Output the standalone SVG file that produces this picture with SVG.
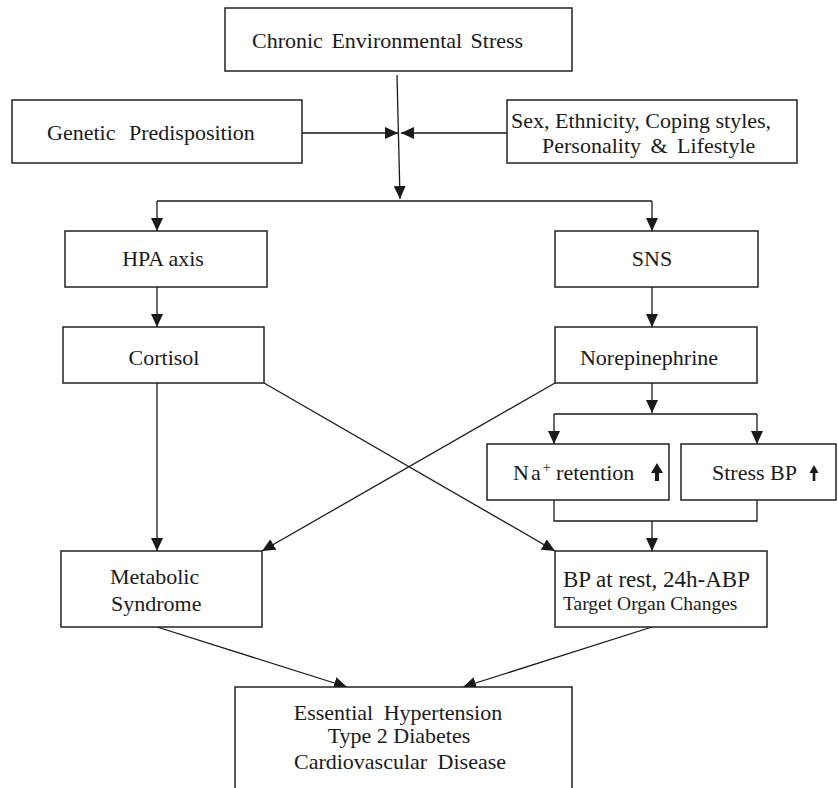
<svg xmlns="http://www.w3.org/2000/svg" width="838" height="788" viewBox="0 0 838 788">
<defs>
<marker id="ah" markerUnits="userSpaceOnUse" markerWidth="14" markerHeight="12" refX="13" refY="6" orient="auto">
<path d="M0,0 L13,6 L0,12 Z" fill="#1a1a1a"/>
</marker>
</defs>
<style>
rect{fill:#fff;stroke:#222;stroke-width:1.5}
text{font-family:"Liberation Serif","Times New Roman",serif;font-size:22px;fill:#1a1a1a}
.c{text-anchor:middle}
.s{font-size:19.5px}
#connectors line,#connectors polyline,#connectors path.l{stroke:#1a1a1a;stroke-width:1.3;fill:none}
.ar{marker-end:url(#ah)}
</style>
<rect x="0" y="0" width="838" height="788" style="fill:#fff;stroke:none"/>
<g id="connectors">
<line class="ar" x1="397" y1="75" x2="400" y2="199"/>
<line class="ar" x1="302" y1="133" x2="398" y2="133"/>
<line class="ar" x1="507" y1="133" x2="401" y2="133"/>
<polyline class="ar" points="157,201 157,201 157,231"/>
<line x1="157" y1="201" x2="652" y2="201"/>
<line class="ar" x1="652" y1="201" x2="652" y2="231"/>
<line class="ar" x1="157" y1="287" x2="157" y2="327"/>
<line class="ar" x1="652" y1="287" x2="652" y2="327"/>
<line class="ar" x1="652" y1="383" x2="652" y2="413"/>
<line x1="554" y1="414" x2="757" y2="414"/>
<line class="ar" x1="554" y1="414" x2="554" y2="444"/>
<line class="ar" x1="757" y1="414" x2="757" y2="444"/>
<polyline points="554,500 554,521 757,521 757,500"/>
<line class="ar" x1="652" y1="521" x2="652" y2="551"/>
<line class="ar" x1="157" y1="383" x2="157" y2="551"/>
<line class="ar" x1="264" y1="383" x2="555" y2="551"/>
<line class="ar" x1="555" y1="383" x2="262" y2="551"/>
<line class="ar" x1="157" y1="627" x2="347" y2="687"/>
<line class="ar" x1="652" y1="627" x2="463" y2="687"/>
</g>
<g id="stress">
<rect x="225" y="8" width="347" height="63"/>
<text x="252" y="48" style="word-spacing:3px">Chronic Environmental Stress</text>
</g>
<g id="genetic">
<rect x="12" y="100" width="290" height="63"/>
<text x="47" y="140" style="word-spacing:8px">Genetic Predisposition</text>
</g>
<g id="factors">
<rect x="507" y="100" width="290" height="63"/>
<text x="511" y="128">Sex, Ethnicity, Coping styles,</text>
<text x="542" y="153" style="word-spacing:4px">Personality &amp; Lifestyle</text>
</g>
<g id="hpa">
<rect x="65" y="231" width="202" height="56"/>
<text x="163" y="266" class="c">HPA axis</text>
</g>
<g id="sns">
<rect x="555" y="231" width="203" height="56"/>
<text x="652" y="266" class="c">SNS</text>
</g>
<g id="cortisol">
<rect x="63" y="327" width="201" height="56"/>
<text x="164" y="365" class="c">Cortisol</text>
</g>
<g id="norepinephrine">
<rect x="555" y="327" width="202" height="56"/>
<text x="649" y="365" class="c">Norepinephrine</text>
</g>
<g id="na">
<rect x="487" y="444" width="182" height="56"/>
<text x="513" y="480"><tspan style="letter-spacing:2px">Na</tspan><tspan dy="-8" style="font-size:14px">+</tspan><tspan dy="8"> retention</tspan></text>
<path d="M657,463 L663,473 L659,473 L659,481 L655,481 L655,473 L651,473 Z" fill="#1a1a1a"/>
</g>
<g id="stressbp">
<rect x="681" y="444" width="155" height="56"/>
<text x="712" y="480">Stress BP</text>
<path d="M814,465 L818.5,473 L815.3,473 L815.3,481 L812.7,481 L812.7,473 L809.5,473 Z" fill="#1a1a1a"/>
</g>
<g id="metabolic">
<rect x="61" y="551" width="201" height="76"/>
<text x="110" y="584">Metabolic</text>
<text x="111" y="611">Syndrome</text>
</g>
<g id="bp">
<rect x="555" y="551" width="212" height="76"/>
<text x="563" y="587" style="font-size:23px">BP at rest, 24h-ABP</text>
<text x="563" y="610" class="s">Target Organ Changes</text>
</g>
<g id="outcome">
<path d="M235,790 L235,687 L572,687 L572,790" style="fill:#fff;stroke:#222;stroke-width:1.5"/>
<text x="398" y="720" class="c" style="word-spacing:5px">Essential Hypertension</text>
<text x="399" y="743" class="c">Type 2 Diabetes</text>
<text x="400" y="769" class="c" style="word-spacing:5px">Cardiovascular Disease</text>
</g>
</svg>
